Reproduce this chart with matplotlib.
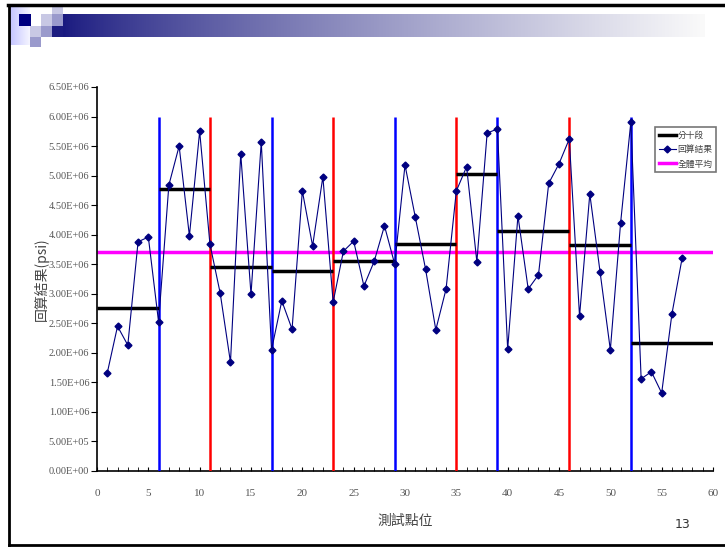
import numpy as np
import matplotlib
matplotlib.use("Agg")
import matplotlib.pyplot as plt
import matplotlib.ticker as ticker
from matplotlib.patches import Rectangle

plt.rcParams['font.family'] = ['Liberation Serif', 'Noto Sans CJK TC', 'DejaVu Sans']

# back-calculated results per test point
points = np.arange(1, 58)
results = [1.66e6, 2.45e6, 2.13e6, 3.88e6, 3.96e6, 2.52e6, 4.84e6, 5.50e6, 3.98e6, 5.75e6,
           3.84e6, 3.01e6, 1.84e6, 5.37e6, 2.99e6, 5.57e6, 2.05e6, 2.88e6, 2.40e6, 4.74e6,
           3.81e6, 4.98e6, 2.86e6, 3.72e6, 3.89e6, 3.13e6, 3.55e6, 4.15e6, 3.50e6, 5.18e6,
           4.30e6, 3.42e6, 2.39e6, 3.08e6, 4.74e6, 5.15e6, 3.54e6, 5.72e6, 5.79e6, 2.06e6,
           4.32e6, 3.08e6, 3.32e6, 4.87e6, 5.20e6, 5.62e6, 2.62e6, 4.69e6, 3.37e6, 2.05e6,
           4.20e6, 5.91e6, 1.56e6, 1.68e6, 1.32e6, 2.66e6, 3.61e6]

# segment boundaries and segment averages
seg_edges = [0, 6, 11, 17, 23, 29, 35, 39, 46, 52, 60]
seg_means = [2.76e6, 4.78e6, 3.45e6, 3.38e6, 3.55e6, 3.85e6, 5.03e6, 4.06e6, 3.82e6, 2.16e6]
blue_cuts = [6, 17, 29, 39, 52]
red_cuts = [11, 23, 35, 46]
overall_mean = 3.71e6

fig = plt.figure(figsize=(7.25, 5.47), dpi=100)
W, H = 725, 547

def px_rect(x, y, w, h, color):
    # rectangle in pixel coords measured from top-left
    fig.patches.append(Rectangle((x / W, 1 - (y + h) / H), w / W, h / H,
                                 transform=fig.transFigure, color=color, lw=0, zorder=1))

# slide header: gradient bar
grad = np.linspace(0, 1, 256) ** 0.8
navy = np.array([0.10, 0.10, 0.50])
end = np.array([0.98, 0.98, 0.98])
cols = navy[None, :] * (1 - grad[:, None]) + end[None, :] * grad[:, None]
hax = fig.add_axes([63 / W, 1 - 37 / H, (705 - 63) / W, 23 / H])
hax.imshow(cols[None, :, :], aspect='auto', extent=[0, 1, 0, 1])
hax.axis('off')
lax = fig.add_axes([10 / W, 1 - 45 / H, 20 / W, 38 / H])
lg = np.linspace(0.80, 1.0, 64)
lax.imshow(np.stack([lg * 0.96, lg * 0.96, np.ones_like(lg)], axis=-1)[None, :, :],
           aspect='auto', extent=[0, 1, 0, 1])
lax.axis('off')

px_rect(19, 14, 12, 12, '#000080')
px_rect(41, 14, 11, 12, '#c8c8e4')
px_rect(52, 7, 11, 7, '#c8c8e4')
px_rect(52, 14, 11, 12, '#9a9acc')
px_rect(30, 26, 11, 11, '#c8c8e4')
px_rect(41, 26, 11, 11, '#9a9acc')
px_rect(52, 26, 11, 11, '#1c1c80')
px_rect(30, 37, 11, 10, '#9a9acc')

# slide border
fig.add_artist(plt.Line2D([8 / W, 1], [1 - 5 / H, 1 - 5 / H], transform=fig.transFigure,
                          color='black', lw=2.5))
fig.add_artist(plt.Line2D([9 / W, 9 / W], [1 - 5 / H, 1 - 545 / H], transform=fig.transFigure,
                          color='black', lw=2))
fig.add_artist(plt.Line2D([9 / W, 1], [1 - 545 / H, 1 - 545 / H], transform=fig.transFigure,
                          color='black', lw=2))

ax = fig.add_axes([97 / W, 1 - 471 / H, (713 - 97) / W, (471 - 87) / H])

ax.hlines(overall_mean, 0, 60, color='#FF00FF', lw=2.5, zorder=2)
ax.vlines(blue_cuts, 0, 6.0e6, color='#0000FF', lw=1.8, zorder=3)
ax.vlines(red_cuts, 0, 6.0e6, color='#FF0000', lw=1.8, zorder=3)
ax.hlines(seg_means, seg_edges[:-1], seg_edges[1:], color='black', lw=2.5, zorder=4)
ax.plot(points, results, color='#000080', lw=0.8, marker='D', ms=3.5, zorder=5)

# legend proxies
h1, = ax.plot([], [], color='black', lw=2.5)
h2, = ax.plot([], [], color='#000080', lw=0.8, marker='D', ms=3.5)
h3, = ax.plot([], [], color='#FF00FF', lw=2.5)
leg = ax.legend([h1, h2, h3], ['分十段', '回算結果', '全體平均'],
                loc='upper left', bbox_to_anchor=(558 / 616, 1 - 40 / 384),
                prop={'family': ['Noto Sans CJK TC'], 'size': 6.3},
                frameon=True, fancybox=False, borderpad=0.45, handlelength=1.9,
                handletextpad=0.2, labelspacing=0.6, borderaxespad=0)
leg.get_frame().set_edgecolor('#555555')
leg.get_frame().set_linewidth(1.2)
for t in leg.get_texts():
    t.set_color('#444444')

ax.set_xlim(0, 60)
ax.set_ylim(0, 6.5e6)
ax.xaxis.set_major_locator(ticker.MultipleLocator(5))
ax.xaxis.set_minor_locator(ticker.MultipleLocator(1))
ax.yaxis.set_major_locator(ticker.MultipleLocator(5e5))
ax.yaxis.set_major_formatter(ticker.FuncFormatter(lambda v, p: f"{v:.2E}"))
ax.tick_params(axis='x', which='both', direction='in', length=3, labelsize=8,
               labelcolor='#555555', pad=13)
ax.tick_params(axis='y', direction='out', length=4, pad=1.5, labelsize=7.5,
               labelcolor='#555555')
for s in ['top', 'right']:
    ax.spines[s].set_visible(False)
for s in ['left', 'bottom']:
    ax.spines[s].set_linewidth(1.2)

ax.set_ylabel('回算結果(psi)', family=['Noto Sans CJK TC'], fontsize=10, color='#444444')
ax.yaxis.set_label_coords((49 - 97) / 616, 0.5)
ax.set_xlabel('測試點位', family=['Noto Sans CJK TC'], fontsize=10, color='#444444')
ax.xaxis.set_label_coords(0.5, -(514 - 471) / 384)

fig.text(683 / W, 1 - 524 / H, '13', family=['DejaVu Sans'], fontsize=9, color='#333333',
         ha='center', va='center')

fig.savefig('out.png', dpi=100)
